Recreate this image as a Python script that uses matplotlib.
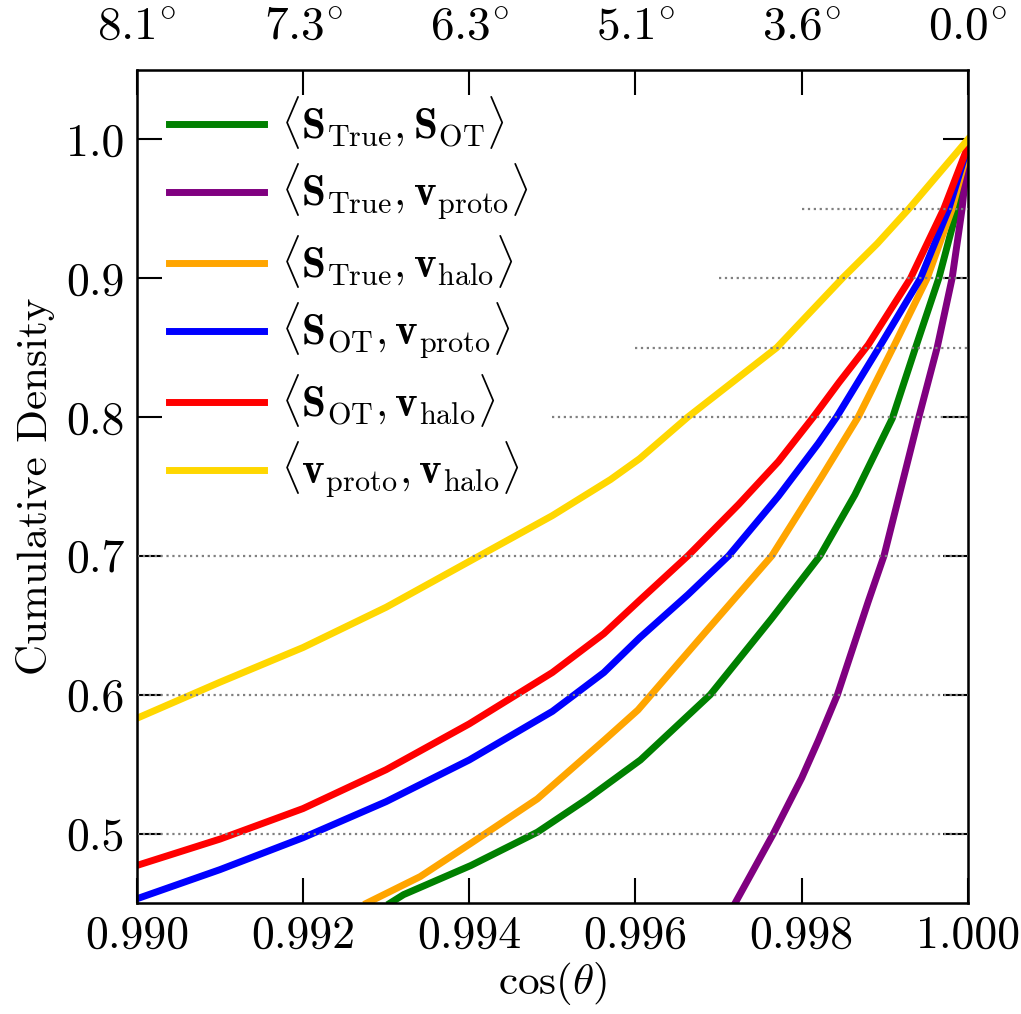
import matplotlib
matplotlib.use('Agg')
import matplotlib.pyplot as plt

plt.rcParams['font.family'] = 'serif'
plt.rcParams['font.serif'] = ['cmr10']
plt.rcParams['mathtext.fontset'] = 'cm'
plt.rcParams['axes.formatter.use_mathtext'] = True

# curves (cos(theta), cumulative density)
x_true_ot = [0.99305, 0.99321, 0.99402, 0.99482, 0.99542, 0.99606, 0.9969, 0.99764, 0.99822,
             0.99864, 0.99909, 0.99937, 0.99965, 0.99987, 1.000]
y_true_ot = [0.450, 0.456, 0.477, 0.501, 0.525, 0.553, 0.600, 0.655, 0.700,
             0.744, 0.799, 0.850, 0.900, 0.950, 0.990]

x_true_proto = [0.9972, 0.99766, 0.998, 0.9982, 0.99843, 0.9988, 0.99899, 0.99941, 0.99963,
                0.99981, 0.99993, 1.000]
y_true_proto = [0.450, 0.500, 0.540, 0.567, 0.600, 0.667, 0.700, 0.800, 0.850,
                0.900, 0.950, 0.990]

x_true_halo = [0.99277, 0.99341, 0.99402, 0.99482, 0.99562, 0.99603, 0.99684, 0.99764, 0.99824,
               0.99868, 0.99910, 0.99951, 0.99981, 1.000]
y_true_halo = [0.450, 0.469, 0.493, 0.525, 0.567, 0.589, 0.645, 0.700, 0.757,
               0.800, 0.850, 0.900, 0.950, 0.993]

x_ot_proto = [0.990, 0.991, 0.992, 0.993, 0.994, 0.995, 0.99562, 0.99605, 0.99663, 0.99712,
              0.99772, 0.9982, 0.99842, 0.99893, 0.99943, 0.99977, 1.000]
y_ot_proto = [0.453, 0.474, 0.497, 0.523, 0.553, 0.588, 0.616, 0.641, 0.672, 0.700,
              0.743, 0.781, 0.800, 0.850, 0.900, 0.950, 0.995]

x_ot_halo = [0.990, 0.991, 0.992, 0.993, 0.994, 0.995, 0.99562, 0.99605, 0.99663, 0.99724,
             0.99772, 0.99814, 0.99845, 0.99880, 0.99931, 0.99971, 1.000]
y_ot_halo = [0.477, 0.496, 0.518, 0.546, 0.579, 0.616, 0.644, 0.668, 0.700, 0.737,
             0.768, 0.800, 0.825, 0.852, 0.900, 0.950, 0.995]

x_proto_halo = [0.990, 0.991, 0.992, 0.993, 0.994, 0.995, 0.9957, 0.99605, 0.99663, 0.9977,
                0.99849, 0.99891, 0.99929, 1.000]
y_proto_halo = [0.583, 0.609, 0.634, 0.663, 0.696, 0.729, 0.755, 0.770, 0.800, 0.850,
                0.900, 0.925, 0.950, 1.000]

labels = [r'$\langle \mathbf{S}_{\mathrm{True}}, \mathbf{S}_{\mathrm{OT}} \rangle$',
          r'$\langle \mathbf{S}_{\mathrm{True}}, \mathbf{v}_{\mathrm{proto}} \rangle$',
          r'$\langle \mathbf{S}_{\mathrm{True}}, \mathbf{v}_{\mathrm{halo}} \rangle$',
          r'$\langle \mathbf{S}_{\mathrm{OT}}, \mathbf{v}_{\mathrm{proto}} \rangle$',
          r'$\langle \mathbf{S}_{\mathrm{OT}}, \mathbf{v}_{\mathrm{halo}} \rangle$',
          r'$\langle \mathbf{v}_{\mathrm{proto}}, \mathbf{v}_{\mathrm{halo}} \rangle$']
colors = ['green', 'purple', 'orange', 'blue', 'red', 'gold']

# reference levels: (y, x start)
ref_y = [0.5, 0.6, 0.7, 0.8, 0.85, 0.9, 0.95]
ref_x0 = [0.990, 0.990, 0.990, 0.995, 0.996, 0.997, 0.998]

xticks = [0.990, 0.992, 0.994, 0.996, 0.998, 1.000]
xticklabels = ['0.990', '0.992', '0.994', '0.996', '0.998', '1.000']
top_labels = [r'$8.1^{\circ}$', r'$7.3^{\circ}$', r'$6.3^{\circ}$',
              r'$5.1^{\circ}$', r'$3.6^{\circ}$', r'$0.0^{\circ}$']
yticks = [0.5, 0.6, 0.7, 0.8, 0.9, 1.0]
yticklabels = ['0.5', '0.6', '0.7', '0.8', '0.9', '1.0']

fig = plt.figure(figsize=(10.21, 10.14), dpi=100)
ax = fig.add_axes([0.134, 0.1095, 0.814, 0.8215])

curves = [(x_true_ot, y_true_ot), (x_true_proto, y_true_proto), (x_true_halo, y_true_halo),
          (x_ot_proto, y_ot_proto), (x_ot_halo, y_ot_halo), (x_proto_halo, y_proto_halo)]
for (xs, ys), c, lab in zip(curves, colors, labels):
    ax.plot(xs, ys, color=c, lw=5, label=lab, zorder=2, solid_joinstyle='round')

for y0, x0 in zip(ref_y, ref_x0):
    ax.plot([x0, 1.0], [y0, y0], color='gray', ls=':', lw=1.6, zorder=3)

ax.set_xlim(0.990, 1.000)
ax.set_ylim(0.45, 1.05)
ax.set_xticks(xticks)
ax.set_xticklabels(xticklabels)
ax.set_yticks(yticks)
ax.set_yticklabels(yticklabels)
ax.tick_params(direction='in', length=18, width=1.5, labelsize=33, right=True, pad=9)
for s in ax.spines.values():
    s.set_linewidth(1.8)

ax.set_xlabel(r'$\cos(\theta)$', fontsize=31, labelpad=2)
ax.set_ylabel('Cumulative Density', fontsize=31, labelpad=8)

ax2 = ax.twiny()
ax2.set_xlim(ax.get_xlim())
ax2.set_xticks(xticks)
ax2.set_xticklabels(top_labels)
ax2.tick_params(direction='in', length=18, width=1.5, labelsize=34, pad=16)

ax.legend(loc='upper left', frameon=False, fontsize=31, handlelength=2.2,
          labelspacing=0.25, handletextpad=0.4, borderaxespad=0.35,
          bbox_to_anchor=(0.0, 1.01))

fig.savefig('out.png', dpi=100)
